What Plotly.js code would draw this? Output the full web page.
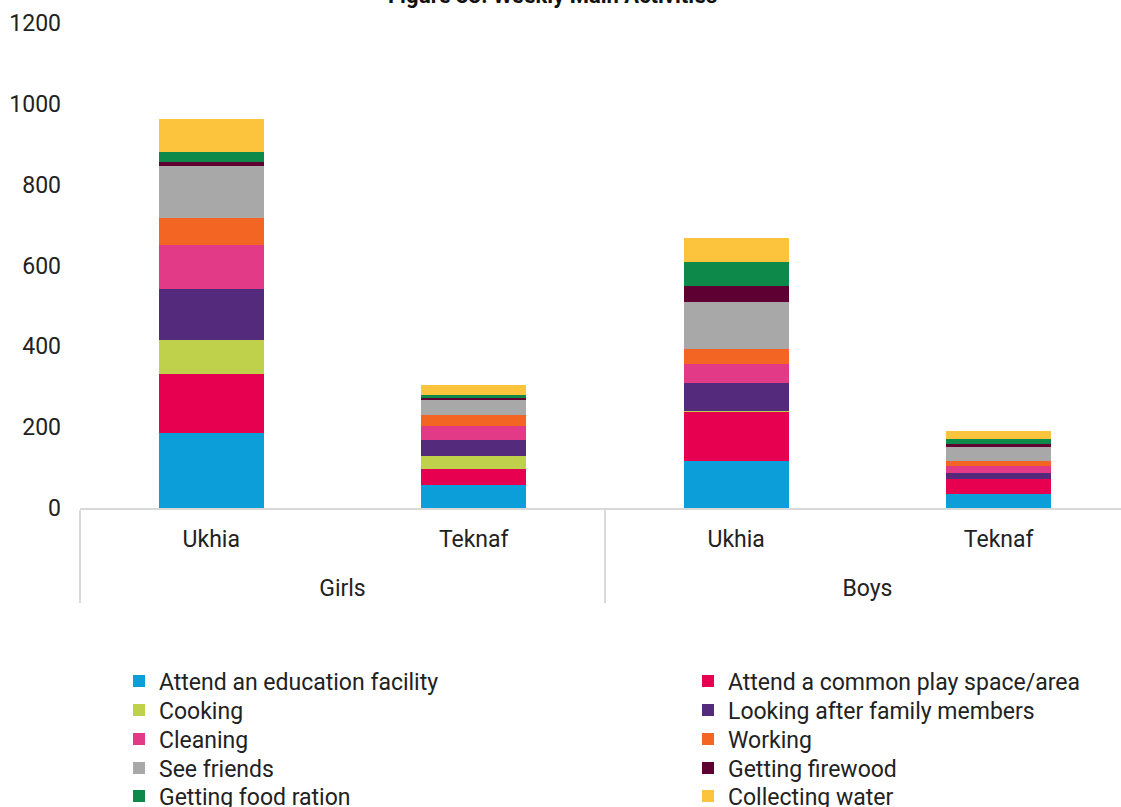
<!DOCTYPE html>
<html>
<head>
<meta charset="utf-8">
<script src="https://cdn.plot.ly/plotly-3.0.1.min.js"></script>
<style>html,body{margin:0;padding:0;background:#fff;}#chart{width:1121px;height:807px;}</style>
</head>
<body>
<div id="chart"></div>
<script>
const groups = ['Girls', 'Girls', 'Boys', 'Boys'];
const locations = ['Ukhia', 'Teknaf', 'Ukhia', 'Teknaf'];

const seriesNames = [
  'Attend an education facility',
  'Attend a common play space/area',
  'Cooking',
  'Looking after family members',
  'Cleaning',
  'Working',
  'See friends',
  'Getting firewood',
  'Getting food ration',
  'Collecting water'
];

const attendEducation = [186, 57, 116, 35];
const attendPlaySpace = [146, 40, 123, 36];
const cooking = [84, 31, 1, 0];
const lookingAfterFamily = [125, 40, 70, 16];
const cleaning = [109, 34, 47, 18];
const working = [67, 27, 36, 12];
const seeFriends = [130, 39, 117, 35];
const gettingFirewood = [9, 4, 40, 6];
const gettingFoodRation = [25, 8, 58, 12];
const collectingWater = [81, 25, 61, 21];

const seriesValues = [attendEducation, attendPlaySpace, cooking, lookingAfterFamily,
  cleaning, working, seeFriends, gettingFirewood, gettingFoodRation, collectingWater];

const colors = ['#0C9ED9', '#E6004F', '#BFD04A', '#532A7C', '#E23A86',
  '#F26522', '#A8A8A8', '#5F0032', '#0D8A4A', '#FCC43D'];

const FONT = 'Roboto, "Noto Sans", sans-serif';

function legendId(i) { return i === 0 ? 'legend' : 'legend' + (i + 1); }

const traces = seriesNames.map((name, i) => ({
  type: 'bar',
  name: name,
  x: [groups, locations],
  y: seriesValues[i],
  marker: { color: colors[i], line: { width: 0 } },
  legend: legendId(i),
  hoverinfo: 'name+y'
}));

const rowCenters = [681, 710, 739, 768, 796];
const colLefts = [119, 688];

const layout = {
  width: 1121,
  height: 807,
  margin: { l: 80, r: 0, t: 23, b: 299, autoexpand: false },
  paper_bgcolor: '#fff',
  plot_bgcolor: '#fff',
  barmode: 'stack',
  bargap: 0.6,
  showlegend: true,
  font: { family: FONT, size: 23, color: '#222' },
  title: {
    text: '<b>Figure 33: Weekly Main Activities</b>',
    font: { family: FONT, size: 22, color: '#111' },
    x: 0.493, xanchor: 'center',
    yref: 'container', y: 0.996, yanchor: 'bottom'
  },
  xaxis: {
    type: 'multicategory',
    range: [-0.5, 3.466],
    showline: true, linecolor: '#D9D9D9', linewidth: 2,
    showdividers: true, dividercolor: '#D9D9D9', dividerwidth: 2,
    ticks: '',
    tickangle: 0,
    ticklabelstandoff: 9,
    ticksuffix: '<br><span style="font-size:19px">\u00a0</span>',
    showgrid: false,
    tickfont: { family: FONT, size: 23, color: '#222' }
  },
  yaxis: {
    range: [0, 1200],
    dtick: 200,
    showgrid: false, zeroline: false, showline: false,
    ticks: '',
    ticklabelstandoff: 18,
    tickfont: { family: FONT, size: 23, color: '#222' }
  }
};

seriesNames.forEach((name, i) => {
  const row = Math.floor(i / 2), col = i % 2;
  layout[legendId(i)] = {
    orientation: 'v',
    xref: 'container', yref: 'container',
    xanchor: 'left', yanchor: 'middle',
    x: colLefts[col] / 1121,
    y: 1 - rowCenters[row] / 807,
    font: { family: FONT, size: 23, color: '#222' },
    bgcolor: 'rgba(0,0,0,0)',
    itemwidth: 30
  };
});

Plotly.newPlot('chart', traces, layout, { displayModeBar: false, responsive: false });
</script>
</body>
</html>
